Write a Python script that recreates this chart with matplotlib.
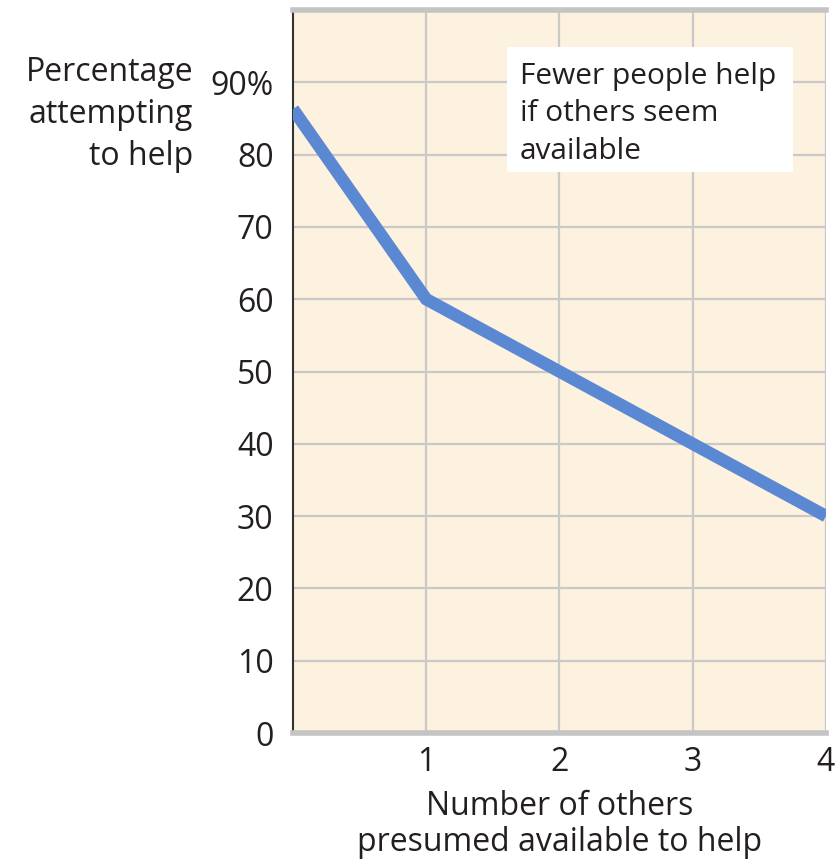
import matplotlib
matplotlib.use("Agg")
import matplotlib.pyplot as plt
from matplotlib.patches import Rectangle

# ── Data ───────────────────────────────────────────────────────────────
others = [0, 1, 2, 3, 4]
pct_helping = [86.3, 60, 50, 40, 30]

y_ticks = [0, 10, 20, 30, 40, 50, 60, 70, 80, 90]
y_labels = ["0", "10", "20", "30", "40", "50", "60", "70", "80", "90%"]
x_ticks = [1, 2, 3, 4]
x_labels = ["1", "2", "3", "4"]

# ── Style ──────────────────────────────────────────────────────────────
plt.rcParams["font.family"] = ["Open Sans", "DejaVu Sans"]
TEXT = "#231f20"
GRID = "#c9c9c9"
BG = "#fdf1df"
LINE = "#5b88d2"

fig = plt.figure(figsize=(8.4, 8.64), dpi=100)
ax = fig.add_axes([0.3488, 0.1516, 0.6345, 0.8368])
ax.set_facecolor(BG)

ax.plot(others, pct_helping, color=LINE, lw=9, solid_capstyle="butt",
        solid_joinstyle="miter", zorder=3)

ax.set_xlim(0, 4)
ax.set_ylim(0, 100)
ax.set_xticks(x_ticks)
ax.set_xticklabels(x_labels)
ax.set_yticks(y_ticks)
ax.set_yticklabels(y_labels)
ax.tick_params(length=0, labelsize=23, colors=TEXT)
ax.tick_params(axis="y", pad=14)
ax.tick_params(axis="x", pad=9)

ax.grid(True, color=GRID, lw=1.6, zorder=1)
ax.set_axisbelow(True)

ax.spines["right"].set_visible(False)
ax.spines["left"].set_color("#333333")
ax.spines["left"].set_linewidth(1.5)
for side in ("top", "bottom"):
    ax.spines[side].set_color("#c4c4c4")
    ax.spines[side].set_linewidth(4)

# axis titles
fig.text(0.23, 0.935, "Percentage\nattempting\nto help", ha="right", va="top",
         fontsize=23, color=TEXT, linespacing=1.35)
fig.text(0.666, 0.086, "Number of others\npresumed available to help",
         ha="center", va="top", fontsize=23, color=TEXT, linespacing=1.15)

# annotation box
ax.add_patch(Rectangle((0.4015, 0.776), 0.5365, 0.173, transform=ax.transAxes,
                       fc="white", ec="none", zorder=4))
ax.text(0.426, 0.928, "Fewer people help\nif others seem\navailable",
        transform=ax.transAxes, ha="left", va="top", fontsize=21.5,
        color=TEXT, linespacing=1.38, zorder=5)

fig.savefig("out.png", dpi=100, facecolor="white")
